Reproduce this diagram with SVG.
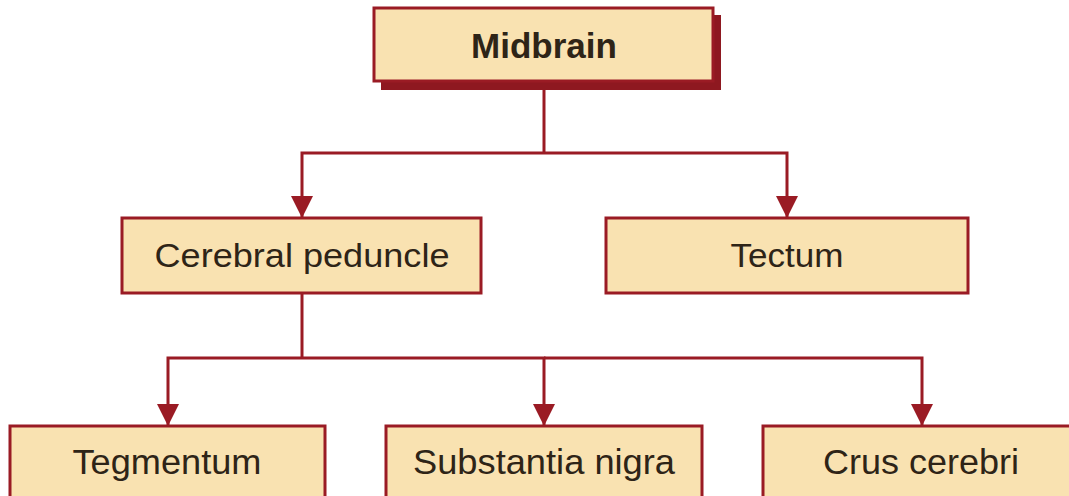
<svg xmlns="http://www.w3.org/2000/svg" width="1069" height="496" viewBox="0 0 1069 496">
<defs>
<style>
.box{fill:#f9e2b1;stroke:#9a1b24;stroke-width:3}
.shadow{fill:#8e1820}
.t{font-family:"Liberation Sans",Arial,sans-serif;fill:#2e2417;text-anchor:middle}
.conn{fill:none;stroke:#9a1b24;stroke-width:3}
.arr{marker-end:url(#ah)}
</style>
<marker id="ah" viewBox="0 0 22 22" markerWidth="22" markerHeight="22" refX="22" refY="11" markerUnits="userSpaceOnUse" orient="auto">
<path d="M0,0 L22,11 L0,22 Z" fill="#9a1b24"/>
</marker>
</defs>
<rect width="1069" height="496" fill="#ffffff"/>
<g id="connectors">
<path class="conn" d="M544,82 V153"/>
<path class="conn arr" d="M544,153 H302 V218"/>
<path class="conn arr" d="M544,153 H787 V218"/>
<path class="conn" d="M302,293 V358"/>
<path class="conn arr" d="M302,358 H168 V426"/>
<path class="conn arr" d="M302,358 H544 V426"/>
<path class="conn arr" d="M544,358 H922 V426"/>
</g>
<g id="midbrain">
<rect class="shadow" x="381" y="15" width="340" height="75"/>
<rect class="box" x="374" y="8" width="339" height="73"/>
<text class="t" x="544" y="58" font-size="35" font-weight="bold">Midbrain</text>
</g>
<g id="cerebral-peduncle">
<rect class="box" x="122" y="218" width="359" height="75"/>
<text class="t" x="302" y="267" font-size="33" textLength="295" lengthAdjust="spacingAndGlyphs">Cerebral peduncle</text>
</g>
<g id="tectum">
<rect class="box" x="606" y="218" width="362" height="75"/>
<text class="t" x="787" y="267" font-size="33" textLength="113" lengthAdjust="spacingAndGlyphs">Tectum</text>
</g>
<g id="tegmentum">
<rect class="box" x="10" y="426" width="315" height="90"/>
<text class="t" x="167" y="474" font-size="35" textLength="189" lengthAdjust="spacingAndGlyphs">Tegmentum</text>
</g>
<g id="substantia-nigra">
<rect class="box" x="386" y="426" width="316" height="90"/>
<text class="t" x="544" y="474" font-size="35" textLength="262" lengthAdjust="spacingAndGlyphs">Substantia nigra</text>
</g>
<g id="crus-cerebri">
<rect class="box" x="763" y="426" width="320" height="90"/>
<text class="t" x="921" y="474" font-size="35" textLength="196" lengthAdjust="spacingAndGlyphs">Crus cerebri</text>
</g>
</svg>
